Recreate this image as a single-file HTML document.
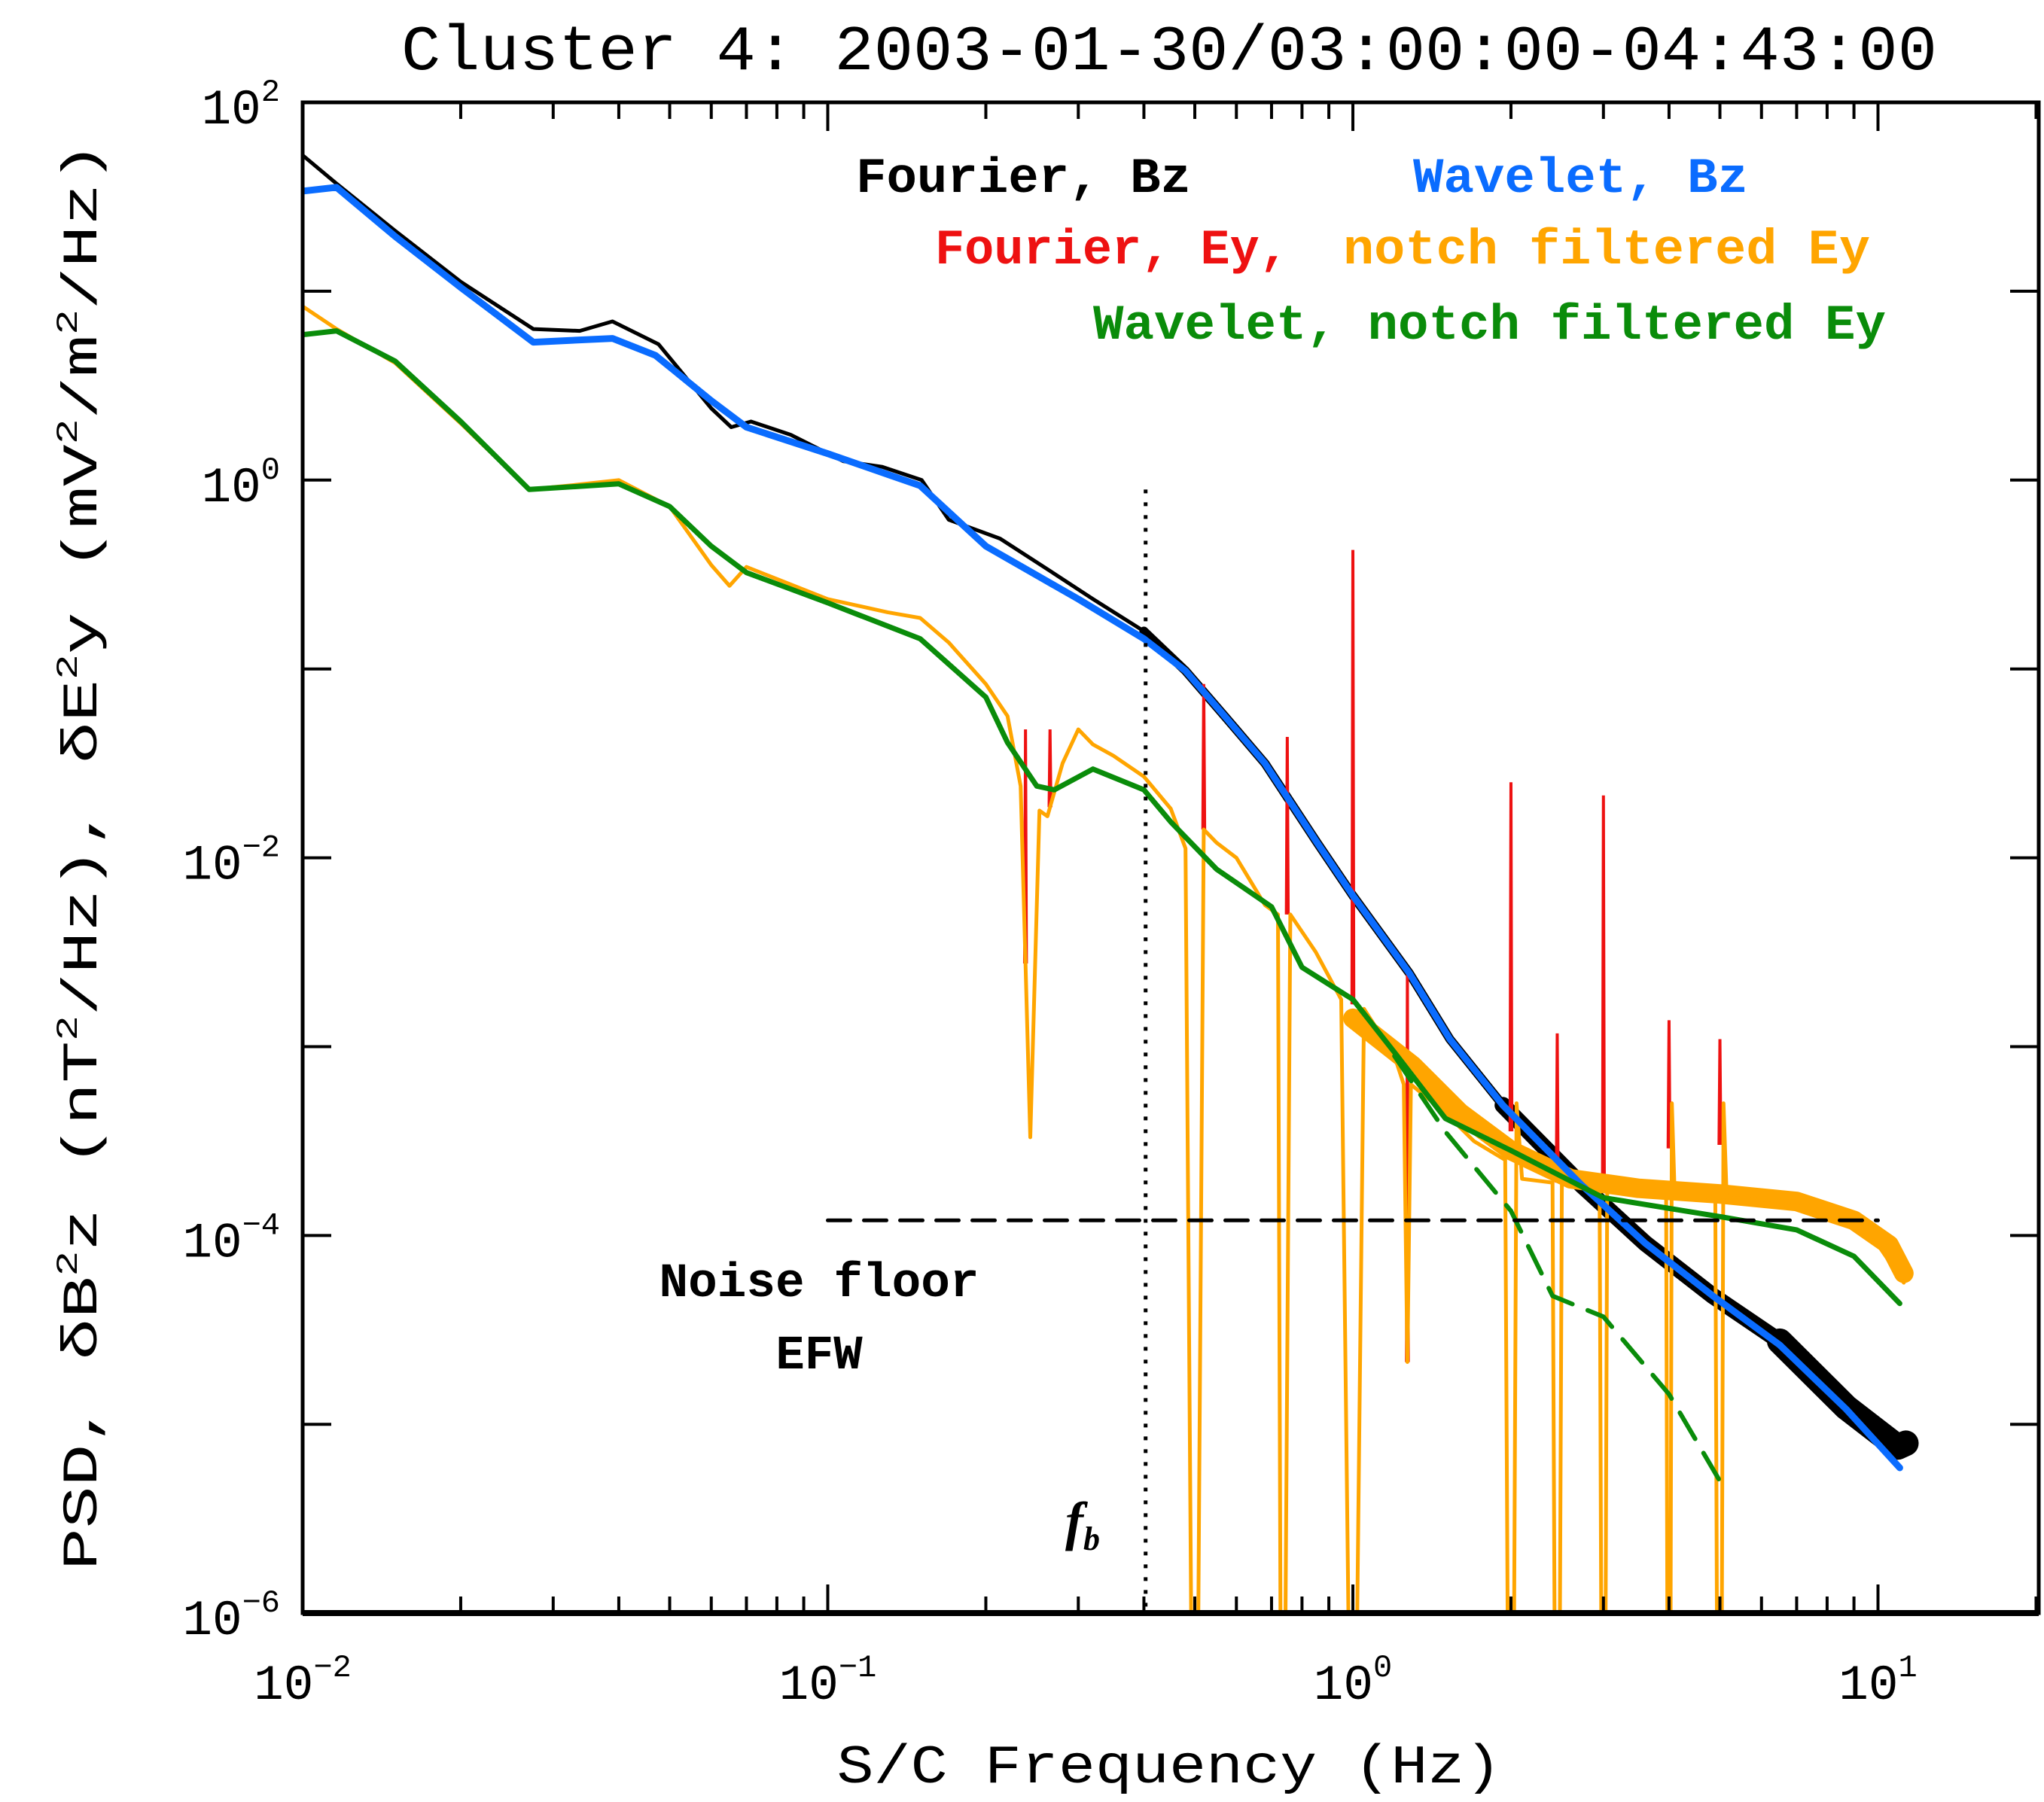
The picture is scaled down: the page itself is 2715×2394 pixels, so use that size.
<!DOCTYPE html>
<html><head><meta charset="utf-8"><style>
html,body{margin:0;padding:0;background:#fff}
svg{display:block}
text{font-family:"Liberation Mono",monospace;fill:#000}
</style></head><body>
<svg id="chart" width="2715" height="2394" viewBox="0 0 2715 2394" xmlns="http://www.w3.org/2000/svg">
<defs><clipPath id="plotclip"><rect x="402" y="136" width="2306" height="2007"/></clipPath></defs>
<rect x="0" y="0" width="2715" height="2394" fill="#fff"/>
<text x="1553" y="92" text-anchor="middle" font-size="84" textLength="2040" lengthAdjust="spacingAndGlyphs">Cluster 4: 2003-01-30/03:00:00-04:43:00</text>
<g id="series" clip-path="url(#plotclip)"></g>
<g id="axes"></g>
<text x="1137" y="255" font-size="66" font-weight="bold" textLength="445" lengthAdjust="spacingAndGlyphs">Fourier, Bz</text>
<text x="1877" y="255" font-size="66" font-weight="bold" style="fill:#0a6cff" textLength="445" lengthAdjust="spacingAndGlyphs">Wavelet, Bz</text>
<text x="1242" y="350" font-size="66" font-weight="bold" style="fill:#ee1111" textLength="470" lengthAdjust="spacingAndGlyphs">Fourier, Ey,</text>
<text x="1784" y="350" font-size="66" font-weight="bold" style="fill:#ffa500" textLength="700" lengthAdjust="spacingAndGlyphs">notch filtered Ey</text>
<text x="1452" y="450" font-size="66" font-weight="bold" style="fill:#0a8c0a" textLength="1053" lengthAdjust="spacingAndGlyphs">Wavelet, notch filtered Ey</text>
<text x="1088" y="1722" text-anchor="middle" font-size="64" font-weight="bold" textLength="425" lengthAdjust="spacingAndGlyphs">Noise floor</text>
<text x="1088" y="1818" text-anchor="middle" font-size="64" font-weight="bold">EFW</text>
<text x="1415" y="2045" font-size="72" font-weight="bold" font-style="italic" style="font-family:'Liberation Serif',serif">f<tspan font-size="44" dy="14">b</tspan></text>
<text x="1553" y="2368" text-anchor="middle" font-size="72" textLength="883" lengthAdjust="spacingAndGlyphs">S/C Frequency (Hz)</text>
<text transform="translate(128,1137) rotate(-90)" text-anchor="middle" font-size="66" textLength="1898" lengthAdjust="spacingAndGlyphs">PSD, δB<tspan font-size="40" dy="-26">2</tspan><tspan dy="26">z (nT</tspan><tspan font-size="40" dy="-26">2</tspan><tspan dy="26">/Hz), δE</tspan><tspan font-size="40" dy="-26">2</tspan><tspan dy="26">y (mV</tspan><tspan font-size="40" dy="-26">2</tspan><tspan dy="26">/m</tspan><tspan font-size="40" dy="-26">2</tspan><tspan dy="26">/Hz)</tspan></text>
</svg>
<script>
// Data (frequency Hz, log10 PSD)
const blackF = [0.01,0.0116,0.015,0.02,0.0275,0.0337,0.0389,0.0476,0.06,0.0655,0.0714,0.085,0.107,0.127,0.151,0.17,0.213,0.268,0.32,0.40,0.48,0.57,0.68,0.855,1.0,1.28,1.53,1.93,2.72,3.6,4.85,6.5,8.7,10.9,11.3];
const blackV = [1.72,1.57,1.32,1.05,0.80,0.79,0.84,0.72,0.38,0.28,0.31,0.24,0.10,0.07,0.00,-0.21,-0.31,-0.49,-0.63,-0.80,-1.01,-1.25,-1.50,-1.92,-2.20,-2.61,-2.96,-3.31,-3.73,-4.04,-4.32,-4.56,-4.91,-5.12,-5.10];
const blueF = [0.01,0.0116,0.015,0.02,0.0275,0.0389,0.047,0.06,0.07,0.1,0.15,0.2,0.3,0.4,0.48,0.57,0.68,0.855,1.0,1.28,1.53,1.93,2.72,3.6,4.85,6.5,8.7,11.0];
const blueV = [1.53,1.55,1.29,1.02,0.73,0.75,0.66,0.42,0.28,0.14,-0.03,-0.35,-0.63,-0.84,-1.01,-1.25,-1.50,-1.92,-2.20,-2.61,-2.96,-3.31,-3.73,-4.04,-4.32,-4.58,-4.92,-5.23];
const orangeF = [0.01,0.0116,0.015,0.02,0.027,0.032,0.04,0.05,0.06,0.065,0.07,0.1,0.13,0.15,0.17,0.2,0.22,0.233,0.243,0.253,0.262,0.28,0.3,0.32,0.35,0.4,0.45,0.48,0.495,0.505,0.52,0.55,0.6,0.68,0.72,0.73,0.74,0.76,0.85,0.95,0.99,1.01,1.05,1.2,1.25,1.27,1.29,1.5,1.7,1.95,1.98,2.02,2.05,2.1,2.4,2.43,2.47,2.5,2.95,2.98,3.02,3.05,3.95,3.98,4.02,4.05,4.1,4.9,4.95,5.03,5.08,5.15,7,9,10,11.2];
const orangeV = [0.92,0.80,0.62,0.30,-0.05,-0.03,0.0,-0.14,-0.45,-0.56,-0.46,-0.63,-0.70,-0.73,-0.86,-1.08,-1.25,-1.62,-3.48,-1.75,-1.78,-1.50,-1.32,-1.40,-1.46,-1.57,-1.74,-1.95,-7,-7,-1.85,-1.92,-2.0,-2.25,-2.3,-7,-7,-2.3,-2.5,-2.75,-7,-7,-2.8,-3.05,-3.2,-4.67,-3.2,-3.35,-3.5,-3.6,-7,-7,-3.3,-3.7,-3.72,-7,-7,-3.72,-3.75,-7,-7,-3.75,-3.78,-7,-7,-3.3,-3.78,-3.8,-7,-7,-3.3,-3.8,-3.82,-3.95,-4.05,-4.25];
const orangeBandF = [1.0,1.3,1.6,2.0,2.6,3.5,5,7,9,10.5,11.2];
const orangeBandV = [-2.85,-3.1,-3.35,-3.55,-3.7,-3.75,-3.78,-3.82,-3.92,-4.05,-4.2];
const redSpikeF = [0.238,0.265,0.52,0.75,1.0,1.27,2.0,2.45,3.0,4.0,5.0];
const redSpikeV = [-1.32,-1.32,-1.08,-1.36,-0.37,-2.61,-1.60,-2.93,-1.67,-2.86,-2.96];
const greenF = [0.01,0.0116,0.015,0.02,0.027,0.04,0.05,0.06,0.07,0.1,0.15,0.2,0.22,0.25,0.27,0.32,0.4,0.45,0.55,0.7,0.8,1.0,1.2,1.5,2,3,5,7,9,11];
const greenV = [0.77,0.79,0.63,0.31,-0.05,-0.02,-0.14,-0.35,-0.49,-0.65,-0.84,-1.15,-1.39,-1.62,-1.64,-1.53,-1.64,-1.81,-2.06,-2.26,-2.58,-2.75,-3.03,-3.38,-3.55,-3.80,-3.90,-3.97,-4.11,-4.36];
const greenDashF = [1.2,1.5,2,2.4,3,4,5];
const greenDashV = [-3.05,-3.45,-3.87,-4.32,-4.43,-4.84,-5.30];
const noiseFloorF = [0.1,10];
const noiseFloorV = [-3.92,-3.92];
const fbFreq = 0.403;
const xTickExp = [-2,-1,0,1];
const yTickExp = [2,0,-2,-4,-6];

const NS = 'http://www.w3.org/2000/svg';
const L=402,R=2708,T=136,B=2143;
const X = f => L + (Math.log10(f)+2)*697.5;
const Y = v => T + (2-v)*250.9;
function mk(tag, attrs, parent){const e=document.createElementNS(NS,tag);for(const k in attrs)e.setAttribute(k,attrs[k]);parent.appendChild(e);return e;}
const S=document.getElementById('series'), A=document.getElementById('axes');
function pathD(F,V,from,to){let d='';let first=true;for(let i=0;i<F.length;i++){if(F[i]<from||F[i]>to)continue;d+=(first?'M':'L')+X(F[i]).toFixed(1)+','+Y(V[i]).toFixed(1);first=false;}return d;}
function line(F,V,color,w,name,from=0,to=100,dash){
  const p=mk('path',{d:pathD(F,V,from,to),fill:'none',stroke:color,'stroke-width':w,'stroke-linejoin':'round','stroke-linecap':'round'},S);
  if(dash)p.setAttribute('stroke-dasharray',dash);
  
  
  return p;
}
// black Fourier Bz (with noise band at high freq)
line(blackF,blackV,'#000',5,'fourier-bz-line');
line(blackF,blackV,'#000',12,'fourier-bz-noise-band',0.4,100);
line(blackF,blackV,'#000',22,'fourier-bz-noise-band-wide',1.9,100);
line(blackF,blackV,'#000',34,'fourier-bz-noise-band-widest',5.5,100);
// red spikes
function orangeBase(f){let pf=null,pv=null;for(let i=0;i<orangeF.length;i++){if(orangeV[i]<-6)continue;if(orangeF[i]>=f){if(pf===null)return orangeV[i];const t=(Math.log10(f)-Math.log10(pf))/(Math.log10(orangeF[i])-Math.log10(pf));return pv+t*(orangeV[i]-pv);}pf=orangeF[i];pv=orangeV[i];}return pv;}
for(let i=0;i<redSpikeF.length;i++){
  const f=redSpikeF[i],b=orangeBase(f);
  const p=mk('path',{d:`M${X(f*0.996)},${Y(b)}L${X(f)},${Y(redSpikeV[i])}L${X(f*1.004)},${Y(b)}`,fill:'#ee1111',stroke:'#ee1111','stroke-width':4},S);
  
  
}
// orange notch filtered
line(orangeBandF,orangeBandV,'#ffa500',26,'notch-ey-noise-band');
line(orangeF,orangeV,'#ffa500',5,'notch-ey-line');
// blue wavelet
line(blueF,blueV,'#0a6cff',9,'wavelet-bz-line');
// green
line(greenF,greenV,'#0a8c0a',7,'wavelet-ey-line');
line(greenDashF,greenDashV,'#0a8c0a',6,'wavelet-ey-dashed-line',0,100,'40,22');
// noise floor
line(noiseFloorF,noiseFloorV,'#000',5,'noise-floor-line',0,100,'30,18');
// fb dotted
const fb=mk('line',{x1:X(fbFreq),x2:X(fbFreq),y1:Y(-0.05),y2:B,stroke:'#000','stroke-width':5,'stroke-dasharray':'5,12'},S);


// axes frame
const fr=mk('rect',{x:L,y:T,width:R-L,height:B-T,fill:'none',stroke:'#000','stroke-width':5},A);


mk('line',{x1:L,x2:R,y1:B,y2:B,stroke:'#000','stroke-width':8},A);
// x ticks
for(let e=-2;e<=1;e++){for(let m=1;m<=9;m++){const f=m*Math.pow(10,e);const x=X(f);if(x>R)continue;const len=m===1?38:22;
  const t1=mk('line',{x1:x,x2:x,y1:B,y2:B-len,stroke:'#000','stroke-width':4},A);
  
  
  const t2=mk('line',{x1:x,x2:x,y1:T,y2:T+len,stroke:'#000','stroke-width':4},A);
  
  
}}
for(const e of xTickExp){
  const t=mk('text',{x:X(Math.pow(10,e)),y:2257,'text-anchor':'middle','font-size':66},A);
  
  
  t.innerHTML='10<tspan font-size="42" dy="-30">'+(e<0?'−':'')+Math.abs(e)+'</tspan>';
}
// y ticks
for(let e=-6;e<=2;e++){const y=Y(e);
  const t1=mk('line',{x1:L,x2:L+38,y1:y,y2:y,stroke:'#000','stroke-width':4},A);
  
  
  const t2=mk('line',{x1:R-38,x2:R,y1:y,y2:y,stroke:'#000','stroke-width':4},A);
  
  
}
for(const e of yTickExp){
  const t=mk('text',{x:372,y:Y(e)+28,'text-anchor':'end','font-size':66},A);
  
  
  t.innerHTML='10<tspan font-size="42" dy="-30">'+(e<0?'−':'')+Math.abs(e)+'</tspan>';
}
</script>
</body></html>
